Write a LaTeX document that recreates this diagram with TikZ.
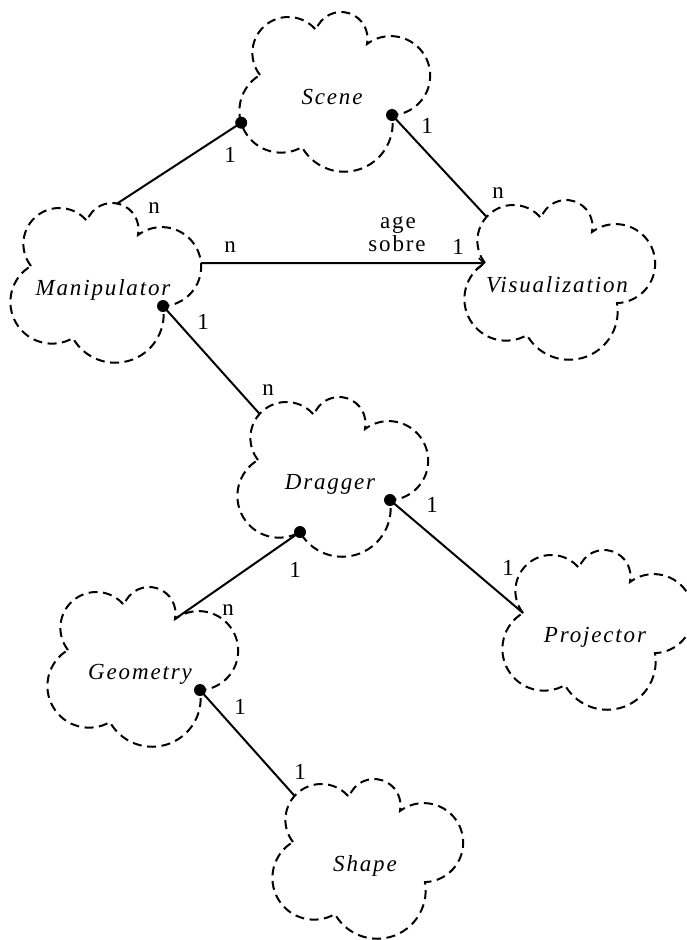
\documentclass[tikz,border=0pt]{standalone}
\usepackage{fontspec}
\setmainfont{Liberation Serif}[LetterSpace=8]
\usetikzlibrary{arrows.meta}

\tikzset{
  cloudline/.style={draw=black, line width=2pt, dash pattern=on 9pt off 5.5pt},
  classname/.style={font=\fontsize{23}{27}\selectfont\itshape, anchor=base, inner sep=0pt},
  mult/.style={font=\fontsize{23}{27}\selectfont, inner sep=0pt},
  note/.style={font=\fontsize{23}{27}\selectfont, inner sep=0pt, anchor=base},
  conn/.style={draw=black, line width=2pt},
  hasdot/.style={fill=black},
  usearrow/.style={-{Straight Barb[length=5pt, width=10pt, line width=1.6pt]}},
}

% A Booch class cloud: #1 name, #2 centre, #3 class name
\newcommand\boochclass[3]{%
  \begin{scope}[shift={#2}]
    \draw[cloudline] (-72,22)
      arc[start angle=-142, end angle=-320.4, radius=35.9pt]
      arc[start angle=-198.7, end angle=-372, radius=26.5pt]
      arc[start angle=-233.1, end angle=-448.1, radius=39.5pt]
      arc[start angle=9.7, end angle=-150.6, radius=48.5pt]
      arc[start angle=-60, end angle=-239.4, radius=41.7pt]
      -- cycle;
    \node[classname] (#1) at (0,-7.5) {#3};
    \coordinate (#1-top) at (14.2,84.5);
    \coordinate (#1-tl) at (-70.4,68.1);
    \coordinate (#1-tr) at (35,53);
    \coordinate (#1-left) at (-72,22);
    \coordinate (#1-right) at (98.1,24.8);
    \coordinate (#1-rl) at (60,-18);
    \coordinate (#1-bot) at (-30,-50);
    \coordinate (#1-bl) at (-90.8,-25.7);
  \end{scope}}

\begin{document}
\begin{tikzpicture}[x=1pt, y=1pt]
  \fill[white] (0,-940) rectangle (687,0);
  \useasboundingbox (0,-940) rectangle (687,0);

  \boochclass{scene}{(332,-97)}{Scene}
  \boochclass{manip}{(103,-288)}{Manipulator}
  \boochclass{vis}{(557,-285)}{Visualization}
  \boochclass{drag}{(330,-482)}{Dragger}
  \boochclass{proj}{(595,-635)}{Projector}
  \boochclass{geom}{(140,-672)}{Geometry}
  \boochclass{shape}{(365,-864)}{Shape}

  % relationships
  \draw[conn] (manip-top) -- (scene-bl);
  \fill[hasdot] (scene-bl) circle[radius=6pt];
  \draw[conn] (scene-rl) -- (vis-tl);
  \fill[hasdot] (scene-rl) circle[radius=6pt];
  \draw[conn, usearrow] (manip-right) -- (vis-left);
  \draw[conn] (manip-rl) -- (drag-tl);
  \fill[hasdot] (manip-rl) circle[radius=6pt];
  \draw[conn] (drag-bot) -- (geom-tr);
  \fill[hasdot] (drag-bot) circle[radius=6pt];
  \draw[conn] (drag-rl) -- (proj-left);
  \fill[hasdot] (drag-rl) circle[radius=6pt];
  \draw[conn] (geom-rl) -- (shape-tl);
  \fill[hasdot] (geom-rl) circle[radius=6pt];

  % cardinalities
  \node[mult] (l1) at (230,-155) {1};
  \node[mult] (l2) at (154,-208) {n};
  \node[mult] (l3) at (427,-126) {1};
  \node[mult] (l4) at (498,-193) {n};
  \node[mult] (l5) at (230,-247) {n};
  \node[mult] (l6) at (458,-247) {1};
  \node[note] (age) at (398,-228) {age};
  \node[note] (sobre) at (397,-251) {sobre};
  \node[mult] (l7) at (203,-322) {1};
  \node[mult] (l8) at (268,-390) {n};
  \node[mult] (l9) at (432,-505) {1};
  \node[mult] (l10) at (295,-570) {1};
  \node[mult] (l11) at (228,-610) {n};
  \node[mult] (l12) at (508,-568) {1};
  \node[mult] (l13) at (240,-707) {1};
  \node[mult] (l14) at (300,-772) {1};
\end{tikzpicture}
\end{document}
